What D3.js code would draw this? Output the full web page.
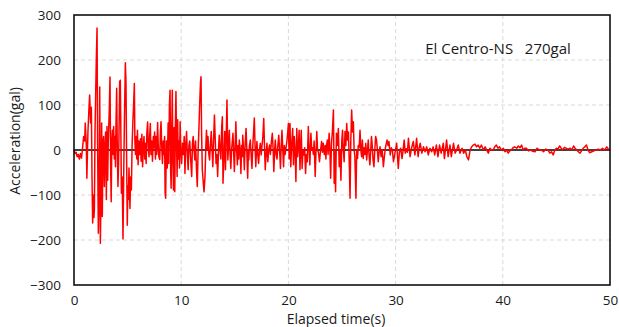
<!DOCTYPE html>
<html>
<head>
<meta charset="utf-8">
<script src="https://cdn.jsdelivr.net/npm/d3@7"></script>
<style>
	body { margin: 0; background: #fff; }
	text { font-family: "Open Sans", "Noto Sans", sans-serif; fill: #1a1a1a; }
</style>
</head>
<body>
<script>
// accelerogram: [time (s), acceleration (gal)]
var record = [
	[0, 0], [0.1, -8], [0.2, -5], [0.3, -15], [0.4, -10], [0.5, -20], [0.6, -8], [0.7, -18], [0.8, 5], [0.9, 30],
	[1.0, 20], [1.05, 60], [1.15, 10], [1.2, -63], [1.3, 40], [1.4, 95], [1.46, 122], [1.55, 60], [1.62, 95],
	[1.68, -60], [1.74, -162], [1.8, -100], [1.86, -150], [1.9, -133], [1.96, 40], [2.02, 120], [2.08, 200], [2.15, 271],
	[2.2, 20], [2.27, -185], [2.33, -120], [2.4, 140], [2.46, -207], [2.52, -100], [2.58, 60], [2.64, -148], [2.7, 15],
	[2.76, 30], [2.83, -81], [2.9, 10], [2.95, 40], [3.02, -110], [3.08, 52], [3.14, -67], [3.2, 20], [3.28, 80],
	[3.36, 162], [3.42, -40], [3.47, -115], [3.53, 20], [3.58, 44], [3.64, -10], [3.7, 52], [3.76, -20], [3.82, 30],
	[3.87, -37], [3.92, 60], [3.98, 137], [4.04, 0], [4.1, -81], [4.16, -30], [4.2, 40], [4.26, 152], [4.32, 155],
	[4.38, 20], [4.42, -96], [4.5, -60], [4.57, -198], [4.64, -50], [4.7, 60], [4.79, 194], [4.85, 150], [4.91, -20],
	[4.97, -167], [5.02, -80], [5.07, -110], [5.13, -40], [5.22, -130], [5.28, -60], [5.35, -89], [5.42, 10], [5.5, 67],
	[5.56, 100], [5.63, 148], [5.68, 20], [5.74, -10], [5.8, 30], [5.86, -20], [5.92, 44], [5.98, -33], [6.05, 20],
	[6.12, -10], [6.2, 25], [6.26, -25], [6.33, 35], [6.4, -37], [6.47, 10], [6.53, 30], [6.6, -20], [6.67, 15],
	[6.73, -30], [6.8, 40], [6.87, 62], [6.94, 0], [7.0, -15], [7.06, 30], [7.12, 59], [7.18, -10], [7.25, 20],
	[7.32, -25], [7.4, 30], [7.46, 5], [7.52, 40], [7.6, -20], [7.66, 30], [7.72, -10], [7.8, 61], [7.86, 10],
	[7.92, -15], [8.0, -21], [8.06, 40], [8.12, 63], [8.18, 10], [8.25, -30], [8.32, 20], [8.38, -10], [8.45, 30],
	[8.5, -96], [8.55, -107], [8.62, 20], [8.7, -40], [8.78, 60], [8.84, -30], [8.9, 100], [8.96, 133], [9.02, -50],
	[9.06, -85], [9.12, 40], [9.17, 133], [9.22, -20], [9.28, -89], [9.34, 50], [9.4, -93], [9.46, 60], [9.51, 130],
	[9.57, 10], [9.62, -59], [9.67, 67], [9.72, -20], [9.78, 20], [9.84, -40], [9.9, 63], [9.96, 0], [10.04, -30],
	[10.12, 15], [10.2, -10], [10.28, 30], [10.35, -52], [10.42, 10], [10.5, 41], [10.58, -15], [10.65, -44],
	[10.72, 10], [10.8, 20], [10.88, -20], [10.98, -59], [11.05, 15], [11.12, 30], [11.2, 0], [11.27, -22],
	[11.34, 20], [11.42, -40], [11.5, -81], [11.58, 0], [11.66, 52], [11.72, 100], [11.8, 150], [11.85, 163],
	[11.9, 40], [11.97, -44], [12.05, -70], [12.13, -93], [12.22, -59], [12.3, 10], [12.36, 44], [12.43, 0],
	[12.5, 30], [12.58, -10], [12.65, -22], [12.72, 10], [12.8, 41], [12.88, 0], [12.95, -37], [13.02, 20],
	[13.1, 78], [13.18, 20], [13.25, -30], [13.32, -10], [13.4, -59], [13.48, 0], [13.55, 33], [13.62, 0],
	[13.7, -20], [13.78, 52], [13.84, 74], [13.9, -74], [13.98, -20], [14.06, 41], [14.13, -44], [14.2, 30],
	[14.27, 111], [14.35, -22], [14.42, 10], [14.49, 44], [14.56, -10], [14.63, -41], [14.7, 0], [14.77, 20],
	[14.83, 37], [14.9, -10], [14.96, -48], [15.03, 10], [15.1, 63], [15.17, 0], [15.24, -33], [15.3, 10],
	[15.36, -20], [15.42, 22], [15.5, 0], [15.57, -52], [15.64, 10], [15.7, -15], [15.74, 33], [15.82, 0],
	[15.89, -44], [15.96, 10], [16.05, 48], [16.12, 0], [16.2, -63], [16.27, 0], [16.3, -22], [16.37, 10],
	[16.45, 22], [16.52, -10], [16.6, -41], [16.68, 10], [16.75, 40], [16.82, 71], [16.9, 0], [16.96, -37],
	[17.02, 0], [17.06, 19], [17.14, -10], [17.22, -30], [17.3, 0], [17.38, 15], [17.46, -11], [17.54, 10],
	[17.62, 30], [17.7, 70], [17.78, 0], [17.84, -44], [17.92, -10], [18.0, 15], [18.08, -26], [18.16, 0],
	[18.24, 11], [18.32, -10], [18.42, 20], [18.5, 37], [18.58, 0], [18.64, -48], [18.72, 0], [18.78, 22],
	[18.86, -10], [18.94, -20], [19.02, 10], [19.1, 33], [19.18, 0], [19.26, -41], [19.33, 10], [19.4, 44],
	[19.48, 0], [19.55, -37], [19.62, 10], [19.7, -10], [19.78, 5], [19.86, 20], [19.94, 40], [20.0, 59],
	[20.07, -20], [20.15, 59], [20.22, -37], [20.3, 10], [20.4, 48], [20.47, -33], [20.55, 30], [20.62, 0],
	[20.7, -70], [20.78, 48], [20.86, -15], [20.94, 10], [21.0, 44], [21.08, -44], [21.15, 10], [21.2, 44],
	[21.28, -41], [21.36, 0], [21.45, -11], [21.52, 5], [21.6, -52], [21.68, -10], [21.76, -26], [21.86, 52],
	[21.93, 0], [22.0, -33], [22.1, 37], [22.18, 0], [22.25, 5], [22.33, -10], [22.4, 20], [22.5, -59],
	[22.58, 0], [22.65, 41], [22.72, 0], [22.8, -5], [22.9, -26], [23.0, 0], [23.1, 19], [23.18, -5],
	[23.25, 15], [23.35, -10], [23.43, 10], [23.5, -20], [23.56, 10], [23.63, 22], [23.7, -10], [23.8, 37],
	[23.87, 0], [23.94, -63], [24.02, 15], [24.1, 40], [24.2, 89], [24.27, -74], [24.33, 0], [24.4, -93],
	[24.48, 37], [24.56, 10], [24.66, 48], [24.74, -37], [24.82, 0], [24.9, -67], [24.98, 20], [25.05, 44],
	[25.12, 0], [25.2, -26], [25.28, 41], [25.36, 10], [25.44, 59], [25.52, 22], [25.6, 40], [25.68, -30],
	[25.75, -107], [25.82, 20], [25.9, 89], [25.98, 40], [26.06, 63], [26.13, 0], [26.2, -15], [26.3, -107],
	[26.37, 0], [26.45, -19], [26.52, 10], [26.6, 5], [26.68, 44], [26.76, 0], [26.83, -15], [26.9, 22],
	[26.98, -19], [27.06, 5], [27.14, -10], [27.22, 15], [27.3, -22], [27.38, 0], [27.45, 22], [27.52, -10],
	[27.6, -33], [27.68, 0], [27.75, 30], [27.82, 10], [27.9, -22], [27.98, -37], [28.06, 0], [28.14, 30],
	[28.22, 22], [28.3, 0], [28.38, -26], [28.46, -5], [28.55, 7], [28.65, -15], [28.75, 0], [28.86, -37],
	[28.95, -15], [29.05, 5], [29.2, 22], [29.3, 10], [29.38, 19], [29.5, -11], [29.6, 5], [29.7, 0],
	[29.8, -26], [29.94, -7], [30.1, 15], [30.25, -41], [30.35, -5], [30.47, 4], [30.6, -19], [30.7, 0],
	[30.8, 22], [30.9, -7], [31.0, 3], [31.1, -5], [31.2, 26], [31.35, -15], [31.45, 0], [31.55, 10],
	[31.65, 19], [31.8, -11], [31.96, 26], [32.1, -15], [32.2, 5], [32.3, 15], [32.45, -7], [32.6, 7],
	[32.75, -4], [32.9, 7], [33.05, -11], [33.2, 4], [33.36, -4], [33.5, 7], [33.65, -11], [33.8, 11],
	[33.95, -15], [34.1, 11], [34.25, -7], [34.45, 15], [34.55, -19], [34.76, 22], [34.9, -15], [35.07, 11],
	[35.2, -15], [35.4, 15], [35.55, -7], [35.7, 0], [35.85, 11], [36.0, -7], [36.2, 4], [36.35, -7],
	[36.5, 0], [36.65, -15], [36.8, -22], [36.95, 0], [37.1, 7], [37.25, 11], [37.4, 13], [37.55, 7],
	[37.7, 11], [37.85, 4], [38.0, 11], [38.2, 0], [38.35, 7], [38.5, 0], [38.65, -7], [38.8, 4],
	[38.95, 0], [39.1, 0], [39.25, 7], [39.4, 11], [39.55, 4], [39.7, 7], [39.85, 0], [40.05, 4],
	[40.2, -4], [40.35, 0], [40.5, -7], [40.65, -2], [40.8, 0], [40.95, 5], [41.1, 7], [41.3, 4],
	[41.45, 9], [41.6, 5], [41.75, 11], [41.9, 0], [42.05, 4], [42.2, 4], [42.4, -2], [42.6, 0],
	[42.8, -3], [43.0, -4], [43.2, 4], [43.4, 0], [43.6, 0], [43.8, -4], [44.0, 2], [44.2, 0],
	[44.4, -7], [44.55, -4], [44.7, -11], [44.85, 0], [45.0, 4], [45.15, 2], [45.3, 9], [45.45, 4],
	[45.6, 0], [45.75, 6], [45.9, 4], [46.05, 2], [46.3, 4], [46.45, 0], [46.6, 9], [46.75, 4],
	[46.9, 0], [47.05, -4], [47.2, -7], [47.35, -2], [47.5, 4], [47.65, 7], [47.8, 11], [47.95, 0],
	[48.1, -6], [48.3, -4], [48.5, -2], [48.7, 0], [48.9, 2], [49.1, 0], [49.3, 4], [49.45, 0],
	[49.55, 2], [49.7, 7], [49.85, 2], [50.0, 0]
];

var xTicks = [0, 10, 20, 30, 40, 50];
var yTicks = [-300, -200, -100, 0, 100, 200, 300];
var label = 'El Centro-NS   270gal';

var W = 619, H = 327;
var plotL = 74, plotT = 15, plotR = 610, plotB = 285;

var x = d3.scaleLinear().domain([0, 50]).range([plotL, plotR]);
var y = d3.scaleLinear().domain([-300, 300]).range([plotB, plotT]);

var svg = d3.select('body').append('svg')
	.attr('width', W)
	.attr('height', H);

// grid
svg.append('g').selectAll('line')
	.data(yTicks.filter(function(d) { return d > -300 && d < 300 && d !== 0; }))
	.enter().append('line')
	.attr('x1', plotL).attr('x2', plotR)
	.attr('y1', function(d) { return y(d); })
	.attr('y2', function(d) { return y(d); })
	.attr('stroke', '#d9d9d9').attr('stroke-width', 1)
	.attr('stroke-dasharray', '4,3');
svg.append('g').selectAll('line')
	.data(xTicks.filter(function(d) { return d > 0 && d < 50; }))
	.enter().append('line')
	.attr('y1', plotT).attr('y2', plotB)
	.attr('x1', function(d) { return x(d); })
	.attr('x2', function(d) { return x(d); })
	.attr('stroke', '#d9d9d9').attr('stroke-width', 1)
	.attr('stroke-dasharray', '4,3');

// zero line
svg.append('line')
	.attr('x1', plotL).attr('x2', plotR)
	.attr('y1', y(0)).attr('y2', y(0))
	.attr('stroke', '#000').attr('stroke-width', 1.5);

// the record
var line = d3.line()
	.x(function(d) { return x(d[0]); })
	.y(function(d) { return y(d[1]); });
svg.append('path')
	.datum(record)
	.attr('d', line)
	.attr('fill', 'none')
	.attr('stroke', '#ff0000')
	.attr('stroke-width', 1.5)
	.attr('stroke-linejoin', 'round');

// frame
svg.append('rect')
	.attr('x', plotL).attr('y', plotT)
	.attr('width', plotR - plotL).attr('height', plotB - plotT)
	.attr('fill', 'none').attr('stroke', '#000').attr('stroke-width', 1.5);

// axes (labels only, as in the source)
var yAxis = svg.append('g')
	.attr('transform', 'translate(' + plotL + ',0)')
	.call(d3.axisLeft(y).tickValues(yTicks).tickSize(0).tickPadding(13));
var xAxis = svg.append('g')
	.attr('transform', 'translate(0,' + plotB + ')')
	.call(d3.axisBottom(x).tickValues(xTicks).tickSize(0).tickPadding(10));
[yAxis, xAxis].forEach(function(a) {
	a.select('.domain').remove();
	a.selectAll('text').style('font-size', '13.5px').style('font-family', '"Open Sans", sans-serif').attr('fill', '#1a1a1a');
});

svg.append('text')
	.attr('x', 336).attr('y', 324)
	.attr('text-anchor', 'middle')
	.style('font-size', '14px')
	.text('Elapsed time(s)');

svg.append('text')
	.attr('transform', 'translate(20,141) rotate(-90)')
	.attr('text-anchor', 'middle')
	.style('font-size', '14px')
	.text('Acceleration(gal)');

svg.append('text')
	.attr('x', 498).attr('y', 54)
	.attr('text-anchor', 'middle')
	.style('font-size', '15px')
	.style('white-space', 'pre')
	.attr('xml:space', 'preserve')
	.text(label);
</script>
</body>
</html>
